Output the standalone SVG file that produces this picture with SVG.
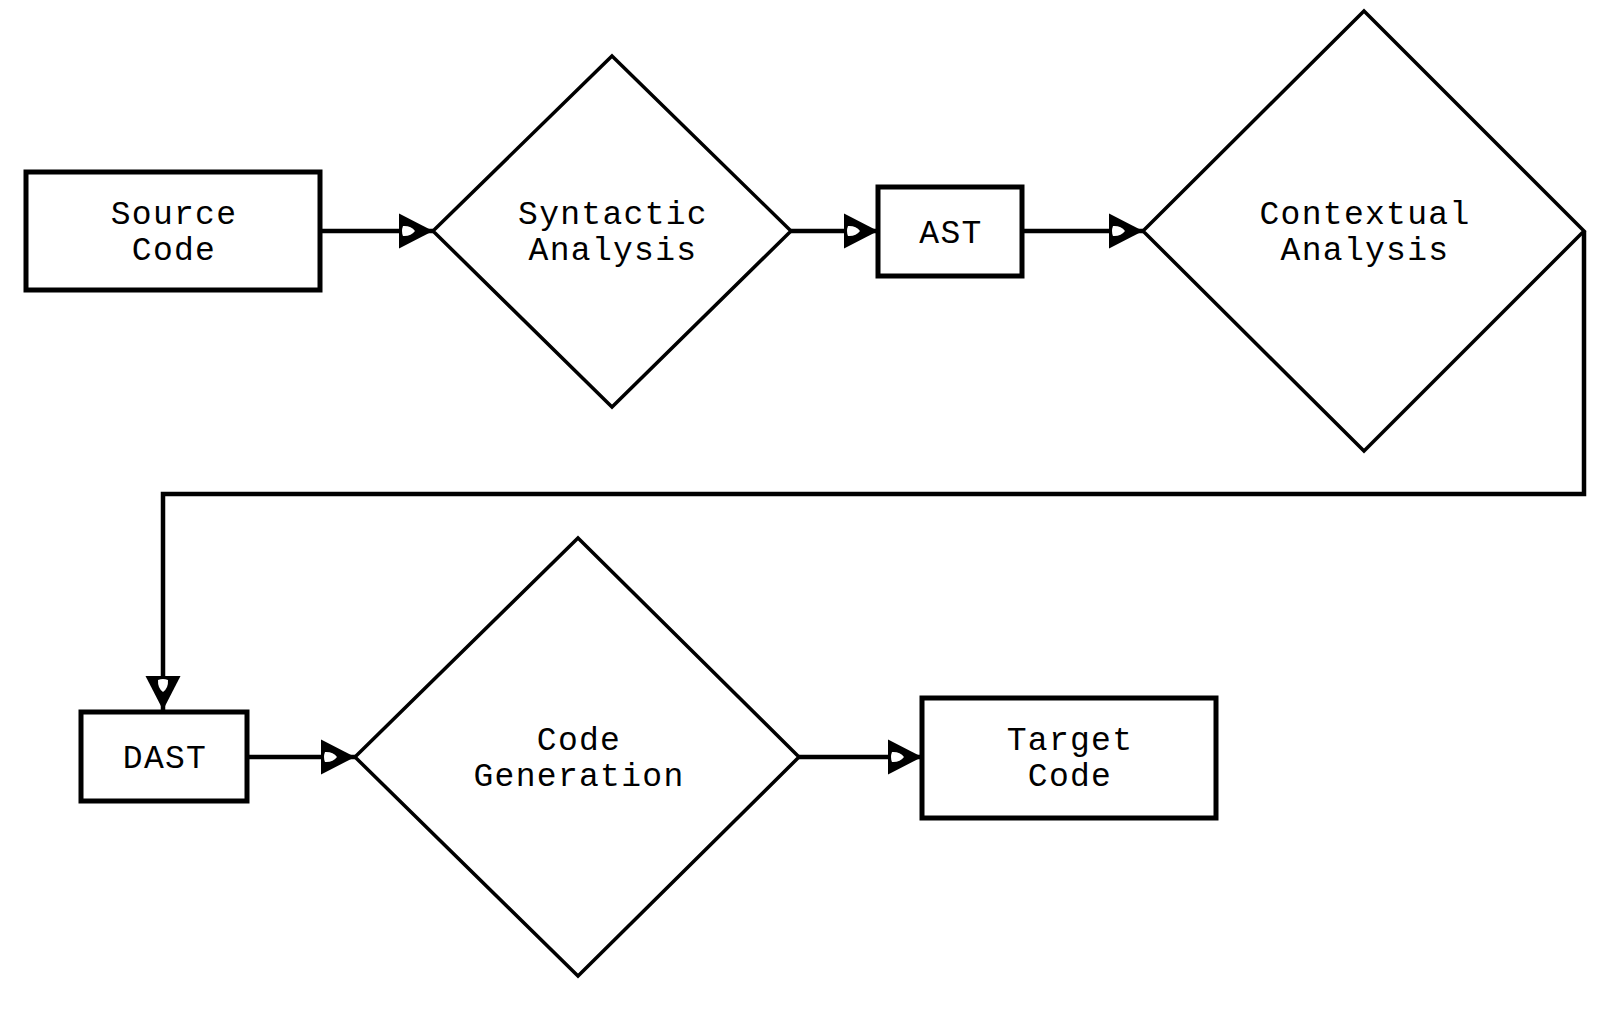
<svg xmlns="http://www.w3.org/2000/svg" width="1610" height="1010" viewBox="0 0 1610 1010">
<style>
.box{fill:#fff;stroke:#000;stroke-width:5}
.dia{fill:#fff;stroke:#000;stroke-width:3.5;stroke-linejoin:miter}
.lbl{font-family:"Liberation Mono","Courier New",monospace;font-size:33px;letter-spacing:1.3px;fill:#000;text-anchor:middle}
.con{fill:none;stroke:#000;stroke-width:4.5;marker-end:url(#arr)}
</style>
<defs>
<marker id="arr" markerUnits="userSpaceOnUse" viewBox="-36 -20 40 40" markerWidth="40" markerHeight="40" refX="0" refY="0" orient="auto">
<path d="M-34,-17.5 L0,0 L-34,17.5 Z" fill="#000"/>
<path d="M-30,-5 Q-22,-5.5 -18,0 Q-22,5.5 -30,5 Q-32,0 -30,-5 Z" fill="#fff"/>
</marker>
</defs>
<rect width="1610" height="1010" fill="#fff"/>
<g id="connectors">
<path class="con" d="M320,231 L433,231"/>
<path class="con" d="M791,231 L878,231"/>
<path class="con" d="M1022,231 L1143,231"/>
<path class="con" d="M1584,231 L1584,494 L163,494 L163,710"/>
<path class="con" d="M247,757 L355,757"/>
<path class="con" d="M799,757 L922,757"/>
</g>
<g id="source-code">
<rect class="box" x="26" y="172" width="294" height="118"/>
<text class="lbl" x="174" y="224">Source</text>
<text class="lbl" x="174" y="260">Code</text>
</g>
<g id="syntactic-analysis">
<polygon class="dia" points="612,56 791,231 612,407 433,231"/>
<text class="lbl" x="613" y="224">Syntactic</text>
<text class="lbl" x="613" y="260">Analysis</text>
</g>
<g id="ast">
<rect class="box" x="878" y="187" width="144" height="89"/>
<text class="lbl" x="951" y="243">AST</text>
</g>
<g id="contextual-analysis">
<polygon class="dia" points="1364,11 1584,231 1364,451 1143,231"/>
<text class="lbl" x="1365" y="224">Contextual</text>
<text class="lbl" x="1365" y="260">Analysis</text>
</g>
<g id="dast">
<rect class="box" x="81" y="712" width="166" height="89"/>
<text class="lbl" x="165" y="768">DAST</text>
</g>
<g id="code-generation">
<polygon class="dia" points="578,538 799,757 578,976 355,757"/>
<text class="lbl" x="579" y="750">Code</text>
<text class="lbl" x="579" y="786">Generation</text>
</g>
<g id="target-code">
<rect class="box" x="922" y="698" width="294" height="120"/>
<text class="lbl" x="1070" y="750">Target</text>
<text class="lbl" x="1070" y="786">Code</text>
</g>
</svg>
